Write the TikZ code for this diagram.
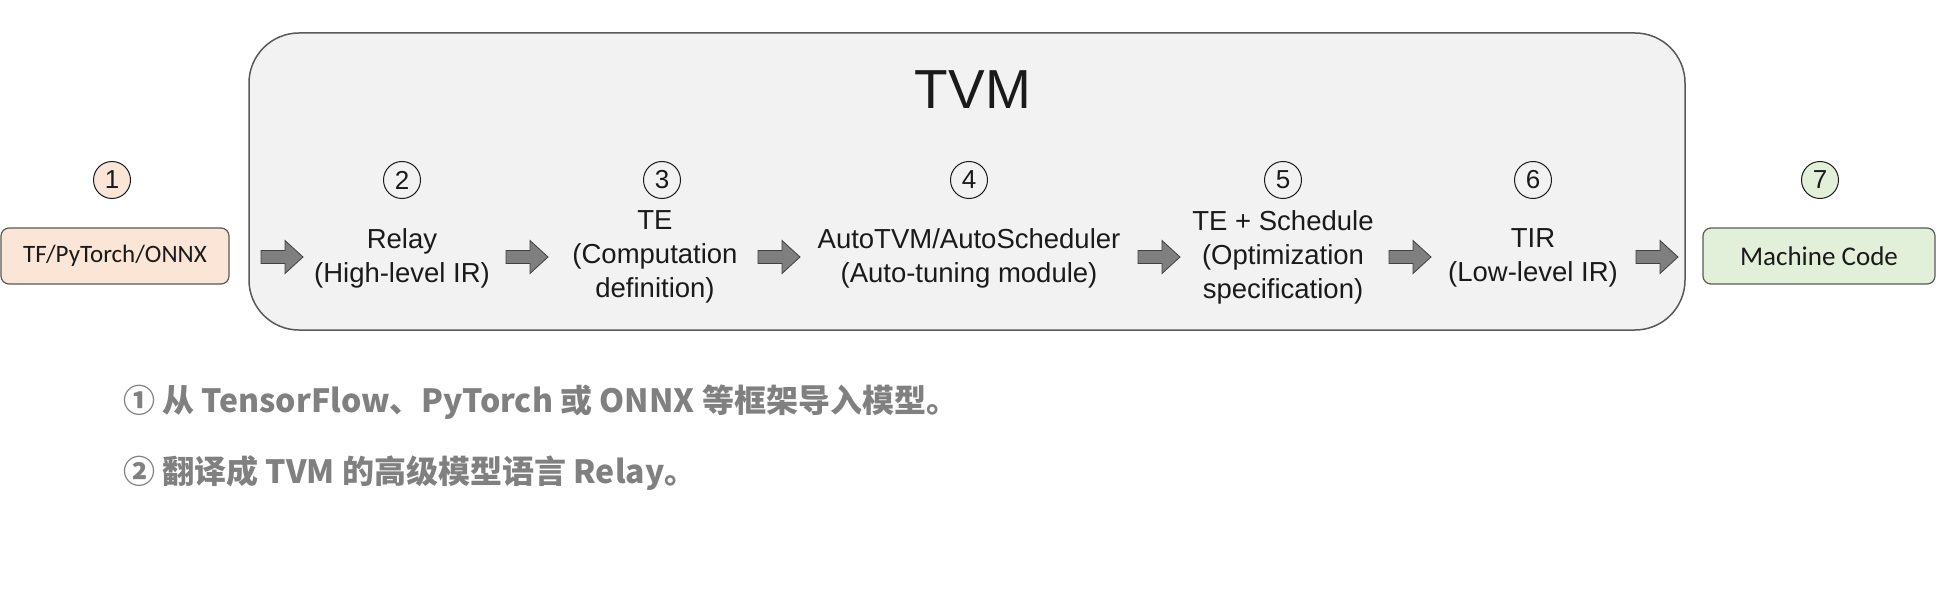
\documentclass[tikz,border=0pt]{standalone}
\usepackage{fontspec}
\newfontfamily\lib{Liberation Sans}
\newfontfamily\carl{Carlito}
\newfontfamily\cjk{Noto Sans CJK SC}
\definecolor{panelfill}{HTML}{F2F2F2}
\definecolor{panelline}{HTML}{595959}
\definecolor{peach}{HTML}{FBE5D6}
\definecolor{mint}{HTML}{E2F0D9}
\definecolor{arrowfill}{HTML}{7F7F7F}
\definecolor{arrowline}{HTML}{404040}
\definecolor{notegray}{HTML}{808080}
\definecolor{ink}{HTML}{1A1A1A}
\begin{document}
\begin{tikzpicture}[x=1pt,y=-1pt,
  stage/.style={font=\lib\fontsize{27.5}{34}\selectfont, text=ink, align=center, inner sep=0pt},
  numcirc/.style={circle, draw=ink, line width=1pt, minimum size=37pt, inner sep=0pt,
                  font=\lib\fontsize{26}{26}\selectfont, text=ink},
  endbox/.style={draw=panelline, line width=1.2pt, rounded corners=8pt, minimum width=228pt,
                 minimum height=56pt, inner sep=0pt, text=ink},
  blockarr/.pic={\draw[draw=arrowline, fill=arrowfill, line width=0.8pt]
     (-21,-6.5) -- (3,-6.5) -- (3,-16.5) -- (21,0) -- (3,16.5) -- (3,6.5) -- (-21,6.5) -- cycle;},
  note/.style={anchor=west, inner sep=0pt, text=notegray,
               font=\cjk\bfseries\fontsize{32}{32}\selectfont}]
\useasboundingbox (0,0) rectangle (1938,604);
\fill[white] (0,0) rectangle (1938,604);

% TVM panel
\draw[draw=panelline, fill=panelfill, line width=1.5pt, rounded corners=50pt]
  (249,33) rectangle (1685,330);
\node[font=\lib\fontsize{55}{55}\selectfont, text=ink, inner sep=0pt] (title) at (973,90) {TVM};

% end boxes
\node[endbox, fill=peach, font=\carl\fontsize{25}{25}\selectfont] (src) at (115,256) {TF/PyTorch/ONNX};
\node[endbox, fill=mint, minimum width=232pt, font=\carl\fontsize{27}{27}\selectfont] (mc) at (1819,256) {Machine Code};

% numbers
\node[numcirc, fill=peach] (n1) at (112,180) {1};
\node[numcirc] (n2) at (402,180) {2};
\node[numcirc] (n3) at (662,180) {3};
\node[numcirc] (n4) at (969,180) {4};
\node[numcirc] (n5) at (1283,180) {5};
\node[numcirc] (n6) at (1533,180) {6};
\node[numcirc, fill=mint] (n7) at (1820,180) {7};

% stages
\node[stage] (relay) at (402,258) {Relay\\(High-level IR)};
\node[stage] (te) at (655,257) {TE\\(Computation\\definition)};
\node[stage] (auto) at (969,258) {AutoTVM/AutoScheduler\\(Auto-tuning module)};
\node[stage] (tes) at (1283,257) {TE + Schedule\\(Optimization\\specification)};
\node[stage] (tir) at (1533,258) {TIR\\(Low-level IR)};

% block arrows
\pic (a1) at (282,257) {blockarr};
\pic (a2) at (527,257) {blockarr};
\pic (a3) at (779,257) {blockarr};
\pic (a4) at (1159,257) {blockarr};
\pic (a5) at (1410,257) {blockarr};
\pic (a6) at (1657,257) {blockarr};

% notes
\node[note] (note1) at (123,402) {① 从 TensorFlow、PyTorch 或 ONNX 等框架导入模型。};
\node[note] (note2) at (123,473) {② 翻译成 TVM 的高级模型语言 Relay。};
\end{tikzpicture}
\end{document}
